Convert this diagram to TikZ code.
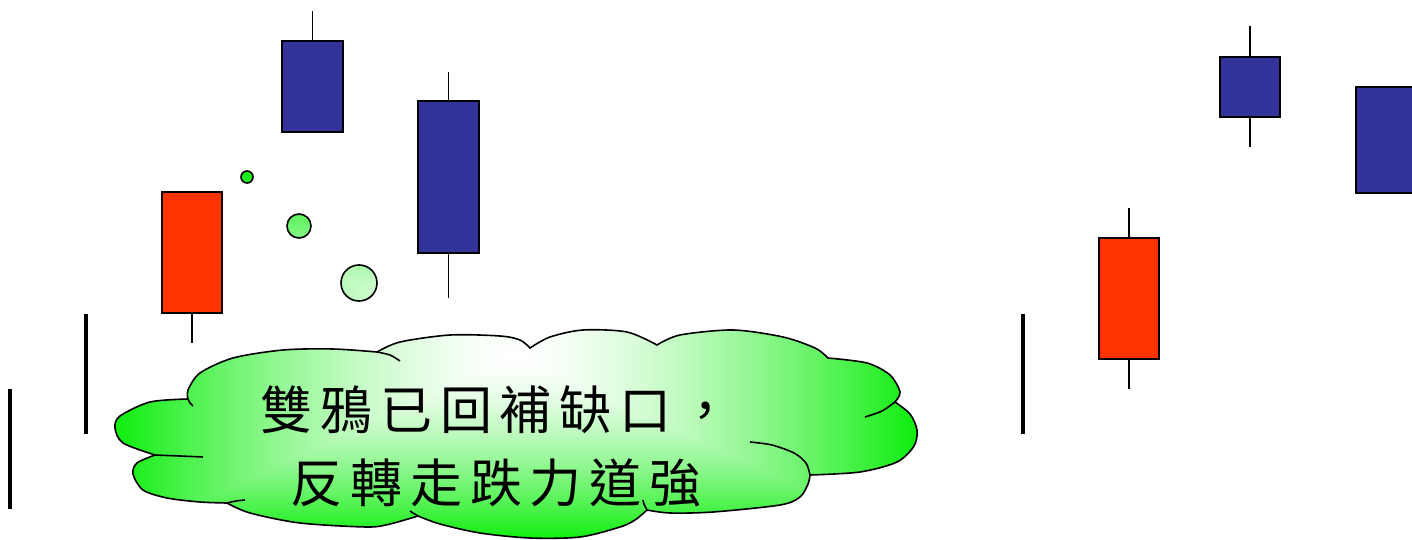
\documentclass[tikz,border=0pt]{standalone}
\usepackage{fontspec}
\newfontfamily\cjk[LetterSpace=15]{Noto Sans CJK TC}
\definecolor{candlered}{RGB}{255,51,0}
\definecolor{candleblue}{RGB}{51,51,153}
\pgfdeclarefunctionalshading{cloudgrad}{\pgfpoint{-50bp}{-50bp}}{\pgfpoint{50bp}{50bp}}{}{
 abs 25 div exch abs 25 div 2 copy lt {exch} if pop
 dup 1 gt {pop 1} if
 dup sqrt mul
 dup 0.95 mul 1 exch sub
 exch dup 0.07 mul 1 exch sub
 exch 0.95 mul 1 exch sub
}
\tikzset{
 wick/.style={line width=1.5pt},
 body/.style={draw=black, line width=2pt},
 bar/.style={line width=4pt},
 outline/.style={draw=black, line width=1.6pt},
 cloudpath/.style={insert path={
  plot[smooth] coordinates {(155,455) (123,443) (115,428) (120,416) (150,402) (188,399)}
  -- plot[smooth] coordinates {(188,399) (188,390) (200,373) (233,358) (283,350) (333,349) (377,352)}
  -- plot[smooth] coordinates {(377,352) (400,342) (450,335) (500,336) (520,340) (530,348)}
  -- plot[smooth] coordinates {(530,348) (550,337) (583,330) (627,332) (657,345)}
  -- plot[smooth] coordinates {(657,345) (680,335) (733,330) (783,337) (815,348) (828,358)}
  -- plot[smooth] coordinates {(828,358) (867,363) (890,375) (900,392) (895,402)}
  -- plot[smooth] coordinates {(895,402) (910,414) (917,430) (914,446) (897,462) (860,472) (810,475)}
  -- plot[smooth] coordinates {(810,475) (808,484) (800,497) (780,505) (713,512) (670,513) (647,510)}
  -- plot[smooth] coordinates {(647,510) (635,520) (620,527) (580,537) (530,538) (480,533) (440,524) (418,516)}
  -- plot[smooth] coordinates {(418,516) (390,524) (367,527) (300,523) (250,513) (227,503)}
  -- plot[smooth] coordinates {(227,503) (200,502) (167,498) (143,490) (133,474) (137,463) (155,455)}
  -- cycle}}
}
\begin{document}
\begin{tikzpicture}[x=1pt,y=-1pt]
\useasboundingbox (0,0) rectangle (1412,540);

% vertical bars
\draw[bar] (10,389) -- (10,509);
\draw[bar] (86,314) -- (86,434);
\draw[bar] (1023,314) -- (1023,434);

% left candles
\draw[wick] (192,313) -- (192,343);
\draw[body, fill=candlered] (162,192) rectangle (222,313);
\draw[wick] (312.5,11) -- (312.5,41);
\draw[body, fill=candleblue] (282,41) rectangle (343,132);
\draw[wick] (448.5,72) -- (448.5,298);
\draw[body, fill=candleblue] (418,101) rectangle (479,253);

% right candles
\draw[wick] (1129,208) -- (1129,389);
\draw[body, fill=candlered] (1099,238) rectangle (1159,359);
\draw[wick] (1250,26) -- (1250,147);
\draw[body, fill=candleblue] (1220,57) rectangle (1280,117);
\begin{scope}
\clip (0,0) rectangle (1412,540);
\draw[body, fill=candleblue] (1356,87) rectangle (1420,193);
\end{scope}

% cloud callout fill
\begin{scope}
\clip[cloudpath] (247,177) circle[radius=6] (299,226) circle[radius=12] (359,283) circle[radius=18];
\shade[shading=cloudgrad] (113,170) rectangle (918,541);
\end{scope}
\path[outline, cloudpath];
\draw[outline] plot[smooth] coordinates {(377,352) (390,355) (400,361)};
\draw[outline] plot[smooth] coordinates {(188,399) (190,403) (193,406)};
\draw[outline] plot[smooth] coordinates {(895,402) (882,411) (865,417)};
\draw[outline] plot[smooth] coordinates {(810,475) (806,463) (794,453) (772,445) (750,442)};
\draw[outline] plot[smooth] coordinates {(647,510) (644,504) (643,500)};
\draw[outline] plot[smooth] coordinates {(418,516) (413,513) (410,511)};
\draw[outline] plot[smooth] coordinates {(155,455) (180,456) (203,457)};
\draw[outline] plot[smooth] coordinates {(227,503) (236,501) (245,500)};
\draw[outline] (247,177) circle[radius=6];
\draw[outline] (299,226) circle[radius=12];
\draw[outline] (359,283) circle[radius=18];

\node[align=center, inner sep=0pt, font=\cjk\fontsize{52}{73}\selectfont] (msg) at (496,446.5)
 {雙鴉已回補缺口，\\反轉走跌力道強};
\end{tikzpicture}
\end{document}
